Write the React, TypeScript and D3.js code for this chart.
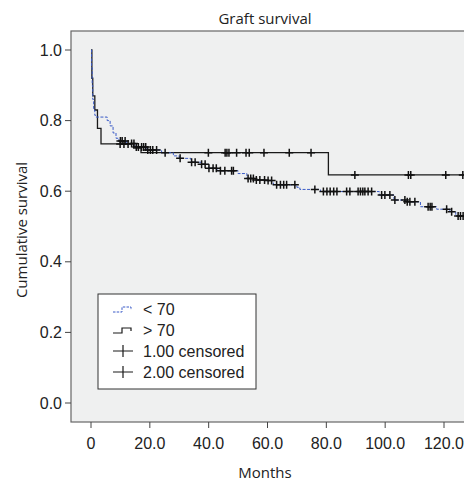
import React from 'react';
import * as d3 from 'd3';

// Kaplan-Meier steps, group 1 (< 70)
const g1Times = [0, 0.2, 0.4, 0.6, 0.9, 1.3, 1.6, 5.5, 6.5, 7.5, 8.5, 9.5, 12, 15, 19, 24, 28, 30, 34, 37.5, 40, 43, 50, 53, 56, 59.7, 62, 70, 71, 78, 98, 103, 107, 112, 117.5, 122, 124, 127];
const g1Surv = [1.0, 0.95, 0.9, 0.86, 0.83, 0.815, 0.81, 0.8, 0.785, 0.765, 0.75, 0.742, 0.735, 0.725, 0.717, 0.709, 0.7, 0.693, 0.682, 0.676, 0.665, 0.658, 0.65, 0.636, 0.632, 0.63, 0.618, 0.611, 0.605, 0.599, 0.589, 0.575, 0.57, 0.556, 0.549, 0.542, 0.53, 0.53];
const g1Censored = [10, 10.6, 11.6, 13.8, 14.6, 15.4, 16.1, 17.2, 17.9, 18.6, 19.3, 20.2, 21, 22.3, 25.2, 30.3, 34.2, 35.4, 37.6, 38.8, 40.1, 41.5, 42.6, 44, 45.5, 47.8, 48.4, 53.4, 54.3, 55.2, 56.2, 57.4, 59, 60.2, 61.4, 63.1, 64.4, 65.5, 66.5, 69.3, 76.1, 79, 80.2, 81.3, 82.5, 83.6, 86.9, 88, 90.8, 91.6, 92.4, 93.1, 94.2, 95.4, 98.8, 99.9, 101.6, 103.3, 106.7, 107.5, 108.4, 110.1, 114.6, 115.3, 115.9, 120.9, 122.6, 124.8, 125.6, 126.5];

// group 2 (> 70)
const g2Times = [0, 0.3, 0.6, 1.3, 2.2, 3.4, 14.5, 17, 80.7, 127];
const g2Surv = [1.0, 0.92, 0.87, 0.83, 0.778, 0.734, 0.722, 0.709, 0.646, 0.646];
const g2Censored = [9.9, 11.2, 12.6, 39.9, 45.6, 46.2, 46.9, 49.5, 52.7, 53.8, 58.8, 67.4, 74.8, 89.7, 107.9, 108.7, 120.6, 126.4];

const xTicks = [0, 20, 40, 60, 80, 100, 120];
const xTickLabels = ['0', '20.0', '40.0', '60.0', '80.0', '100.0', '120.0'];
const yTicks = [0, 0.2, 0.4, 0.6, 0.8, 1.0];
const legendLabels = ['< 70', '> 70', '1.00 censored', '2.00 censored'];

const W = 464;
const H = 483;
const plotLeft = 71;
const plotTop = 31;
const plotBottom = 422;

const x = d3.scaleLinear().domain([0, 120]).range([91, 444]);
const y = d3.scaleLinear().domain([0, 1]).range([403, 50]);

const stepLine = d3.line<[number, number]>()
  .x(d => x(d[0]))
  .y(d => y(d[1]))
  .curve(d3.curveStepAfter);

function survAt(times: number[], surv: number[], t: number) {
  const i = d3.bisectRight(times, t) - 1;
  return surv[Math.max(0, i)];
}

function Cross({cx, cy}: {cx: number, cy: number}) {
  return (
    <path d={`M${cx - 4},${cy}H${cx + 4}M${cx},${cy - 4}V${cy + 4}`} stroke="#111" strokeWidth={1.5} fill="none" />
  );
}

export default function App() {
  const g1 = g1Times.map((t, i) => [t, g1Surv[i]] as [number, number]);
  const g2 = g2Times.map((t, i) => [t, g2Surv[i]] as [number, number]);
  const sans = 'Liberation Sans, Arial, sans-serif';
  const title = 'Open Sans, sans-serif';
  const legX = 98, legY = 294, legW = 158, legH = 95;
  const rowY = (i: number) => 309 + i * 21;

  return (
    <svg width={W} height={H} style={{position: 'absolute', left: 0, top: 0}}>
      <defs>
        <clipPath id="plotclip">
          <rect x={plotLeft} y={plotTop} width={W - plotLeft} height={plotBottom - plotTop} />
        </clipPath>
      </defs>
      <rect x={0} y={0} width={W} height={H} fill="#fff" />
      <rect x={plotLeft} y={plotTop} width={W - plotLeft + 5} height={plotBottom - plotTop} fill="#eff0f0" stroke="#666" strokeWidth={1.2} />

      <text x={265} y={24} textAnchor="middle" fontFamily={title} fontSize={15} fill="#222">Graft survival</text>

      {/* y axis */}
      {yTicks.map(t => (
        <g key={'y' + t}>
          <line x1={65} x2={plotLeft} y1={y(t)} y2={y(t)} stroke="#444" />
          <text x={62} y={y(t) + 5.5} textAnchor="end" fontFamily={sans} fontSize={16} fill="#222">{t.toFixed(1)}</text>
        </g>
      ))}
      <text transform={`translate(27,230) rotate(-90)`} textAnchor="middle" fontFamily={title} fontSize={15} fill="#222">Cumulative survival</text>

      {/* x axis */}
      {xTicks.map((t, i) => (
        <g key={'x' + t}>
          <line x1={x(t)} x2={x(t)} y1={plotBottom} y2={plotBottom + 6} stroke="#444" />
          <text x={x(t)} y={448.5} textAnchor="middle" fontFamily={sans} fontSize={16} fill="#222">{xTickLabels[i]}</text>
        </g>
      ))}
      <text x={265} y={478} textAnchor="middle" fontFamily={title} fontSize={15} fill="#222">Months</text>

      <g clipPath="url(#plotclip)">
        <path d={stepLine(g2) || ''} fill="none" stroke="#1a1a1a" strokeWidth={1.3} />
        <path d={stepLine(g1) || ''} fill="none" stroke="#3a5bc7" strokeWidth={1} strokeDasharray="3,1.5" />
        {g1Censored.map((t, i) => (
          <Cross key={'c1' + i} cx={x(t)} cy={y(survAt(g1Times, g1Surv, t))} />
        ))}
        {g2Censored.map((t, i) => (
          <Cross key={'c2' + i} cx={x(t)} cy={y(survAt(g2Times, g2Surv, t))} />
        ))}
      </g>

      {/* legend */}
      <rect x={legX} y={legY} width={legW} height={legH} fill="#fff" stroke="#333" strokeWidth={1} />
      <path d={`M113,${rowY(0) + 3}H122V${rowY(0) - 2}H131V${rowY(0) + 1}`} fill="none" stroke="#3a5bc7" strokeWidth={1} strokeDasharray="2.5,1.2" />
      <path d={`M113,${rowY(1) + 3}H122V${rowY(1) - 2}H131V${rowY(1) + 1}`} fill="none" stroke="#1a1a1a" strokeWidth={1.2} />
      {[2, 3].map(i => (
        <path key={'lc' + i} d={`M113,${rowY(i)}H133M123,${rowY(i) - 6}V${rowY(i) + 6}`} fill="none" stroke="#1a1a1a" strokeWidth={1.2} />
      ))}
      {legendLabels.map((l, i) => (
        <text key={l} x={143} y={rowY(i) + 6} fontFamily={sans} fontSize={16} fill="#222">{l}</text>
      ))}
    </svg>
  );
}
